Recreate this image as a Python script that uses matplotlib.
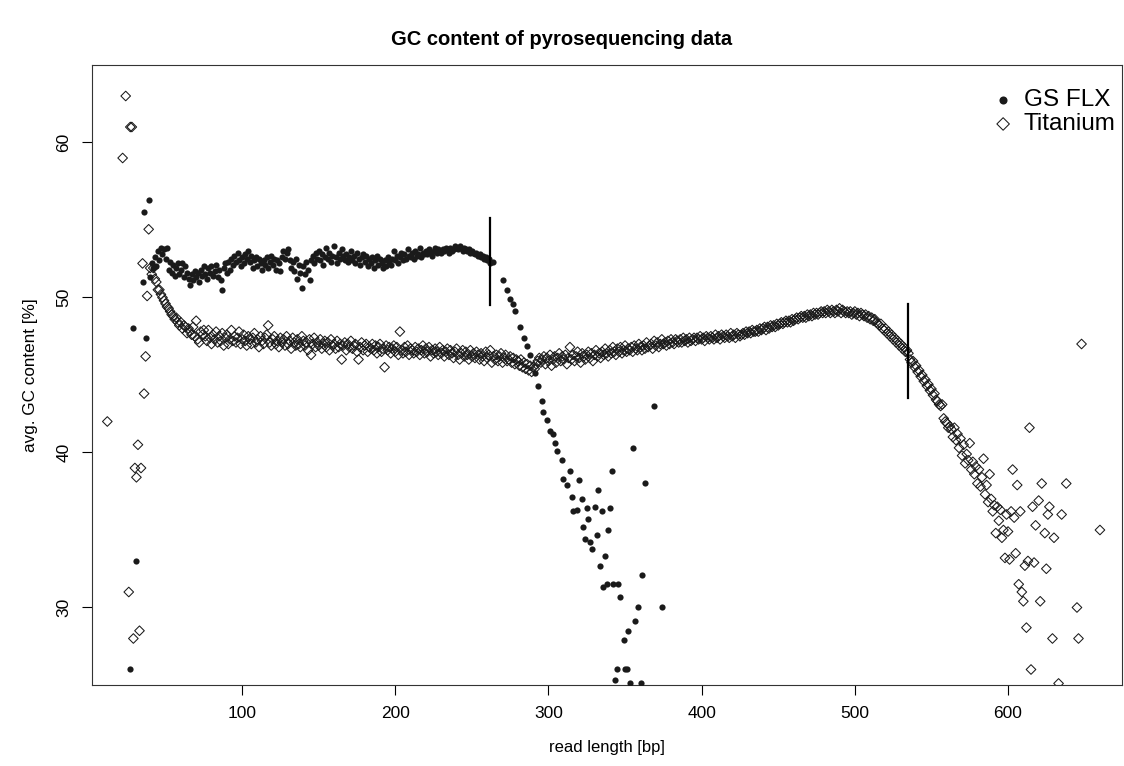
import matplotlib.pyplot as plt

plt.rcParams['font.family'] = ['Liberation Sans', 'DejaVu Sans']

# --- GS FLX: scattered short reads, dense band, then the drop ---
flx_early_x = [27, 29, 31, 35, 36, 37, 39]
flx_early_y = [26.0, 48.0, 33.0, 51.0, 55.5, 47.4, 56.3]

flx_band_start = 40
flx_band_y = [
    51.3, 52.2, 51.9, 52.6, 52.0, 53.0, 52.4, 53.2, 52.8, 53.1,
    52.5, 53.2, 51.8, 52.3, 51.6, 52.1, 51.4, 51.9, 52.2, 51.5,
    51.8, 52.2, 51.3, 52.0, 51.6, 51.2, 50.8, 51.5, 51.1, 51.7,
    51.3, 51.6, 51.0, 51.8, 51.4, 52.0, 51.5, 51.2, 51.9, 51.6,
    52.0, 51.4, 51.7, 52.1, 51.3, 51.8, 51.1, 50.5, 51.9, 52.2,
    51.6, 52.3, 51.8, 52.5, 52.1, 52.7, 52.3, 52.9, 52.4, 52.0,
    52.6, 52.2, 52.8, 52.5, 53.0, 52.3, 52.7, 51.9, 52.4, 52.6,
    52.0, 52.5, 52.2, 51.8, 52.4, 52.1, 52.6, 51.9, 52.3, 52.7,
    52.1, 52.5, 51.8, 52.4, 52.2, 51.7, 52.6, 53.0, 52.5, 52.9,
    53.1, 52.4, 51.9, 52.3, 51.7, 52.5, 51.2, 52.1, 51.6, 50.6,
    52.0, 51.5, 52.3, 51.8, 51.1, 52.4, 52.7, 52.2, 52.9, 52.5,
    53.0, 52.4, 52.8, 52.1, 52.6, 53.2, 52.5, 52.9, 52.3, 52.7,
    53.3, 52.6, 52.2, 52.9, 52.5, 53.1, 52.7, 52.4, 52.8, 52.3,
    52.6, 53.0, 52.4, 52.7, 52.2, 52.9, 52.5, 52.1, 52.6, 52.8,
    52.3, 52.7, 52.0, 52.5, 52.2, 52.6, 51.9, 52.4, 52.7, 52.1,
    52.5, 52.2, 51.9, 52.4, 52.0, 52.6, 52.3, 52.1, 52.5, 53.0,
    52.4, 52.7, 52.2, 52.6, 52.9, 52.4, 52.8, 52.5, 53.1, 52.7,
    52.6, 52.9, 52.5, 53.0, 52.7, 52.8, 53.2, 52.6, 52.9, 52.8,
    53.0, 52.8, 53.1, 52.9, 52.7, 53.0, 53.2, 52.9, 53.1, 53.0,
    52.9, 53.1, 53.0, 53.2, 53.1, 52.9, 53.2, 53.0, 53.1, 53.3,
    53.2, 53.1, 53.3, 53.2, 53.0, 53.2, 53.1, 53.0, 53.1, 52.9,
    53.0, 52.9, 52.8, 52.9, 52.7, 52.8, 52.6, 52.7, 52.5, 52.6,
    52.4, 52.5, 52.2,
]

flx_tail_x = [264.1, 270.6, 272.8, 275.0, 277.1, 278.2, 281.5, 283.7, 285.8, 288.0,
              291.3, 293.4, 295.6, 296.7, 298.9, 301.1, 303.2, 304.3, 305.4, 308.7,
              309.8, 312.0, 314.1, 315.2, 316.3, 318.5, 319.6, 321.7, 322.8, 323.9,
              325.0, 326.1, 327.2, 328.3, 330.4, 331.5, 332.6, 333.7, 334.8, 335.4,
              337.0, 338.1, 339.1, 340.2, 341.3, 342.4, 343.5, 344.6, 345.7, 346.8,
              349.0, 350.0, 351.1, 352.2, 353.3, 355.0, 356.5, 358.7, 360.3, 361.3,
              363.1, 369.0, 374.0]
flx_tail_y = [52.3, 51.1, 50.5, 49.9, 49.6, 49.1, 48.1, 47.4, 46.9, 46.3,
              45.1, 44.3, 43.3, 42.6, 42.1, 41.4, 41.2, 40.6, 40.1, 39.5,
              38.3, 37.9, 38.8, 37.1, 36.2, 36.3, 38.2, 37.0, 35.2, 34.4,
              36.4, 35.7, 34.2, 33.8, 36.5, 34.7, 37.6, 32.7, 36.2, 31.3,
              33.3, 31.5, 35.0, 36.4, 38.8, 31.5, 25.3, 26.0, 31.5, 30.7,
              27.9, 26.0, 26.0, 28.5, 25.1, 40.3, 29.1, 30.0, 25.1, 32.1,
              38.0, 43.0, 30.0]

# --- Titanium ---
ti_early_x = [12, 22, 24, 26, 27, 28, 29, 30, 31, 32, 33, 34, 35, 36, 37, 38, 39]
ti_early_y = [42.0, 59.0, 63.0, 31.0, 61.0, 61.0, 28.0, 39.0, 38.4, 40.5, 28.5, 39.0,
              52.2, 43.8, 46.2, 50.1, 54.4]

ti_band_start = 40
ti_band_y = [
    51.9, 51.5, 51.9, 51.2, 51.0, 50.5, 50.5, 50.2, 50.0, 49.8,
    49.6, 49.4, 49.3, 49.1, 48.9, 48.8, 48.6, 48.7, 48.4, 48.2,
    48.4, 48.0, 48.2, 48.1, 47.7, 48.0, 47.8, 47.6, 48.1, 47.5,
    48.5, 47.3, 47.1, 47.8, 47.6, 47.9,
    47.5, 47.2, 47.9, 47.4, 47.0, 47.6, 47.3, 47.8, 47.1, 47.5,
    47.2, 47.7, 46.9, 47.4, 47.6, 47.0, 47.3, 47.9, 47.2, 47.5,
    47.1, 47.4, 47.8, 47.0, 47.3, 47.6, 47.2, 46.9, 47.5, 47.3,
    47.0, 47.4, 47.7, 47.1, 47.3, 46.8, 47.5, 47.2, 47.0, 47.4,
    47.6, 48.2, 47.1, 46.9, 47.3, 47.5, 47.0, 47.2, 46.8, 47.4,
    47.1, 47.3, 46.9, 47.5, 47.0, 47.2, 46.7, 47.4, 47.1, 46.9,
    47.3, 47.0, 46.8, 47.5, 47.2, 46.9, 47.1, 46.6, 47.3, 46.3,
    47.0, 47.4, 46.8, 47.1, 46.9, 47.3, 46.7, 47.0, 47.2, 46.8,
    47.1, 46.6, 47.3, 46.9, 47.0, 46.7, 47.2, 46.8, 47.0, 46.0,
    46.9, 47.1, 46.6, 47.0, 46.8, 47.2, 46.7, 46.9, 47.0, 46.5,
    46.0, 46.8, 47.1, 46.6, 46.9, 47.0, 46.5, 46.8, 46.7, 47.0,
    46.6, 46.9, 46.4, 46.8, 47.0, 46.5, 46.7, 45.5, 46.9, 46.6,
    46.8, 46.4, 46.7, 46.9, 46.5, 46.8, 46.3, 47.8, 46.6, 46.4,
    46.8, 46.5, 46.9, 46.3, 46.7, 46.6, 46.4, 46.8, 46.5, 46.7,
    46.3, 46.6, 46.9, 46.4, 46.7, 46.5, 46.8, 46.2, 46.6, 46.4,
    46.7, 46.5, 46.3, 46.8, 46.4, 46.6, 46.2, 46.5, 46.7, 46.3,
    46.6, 46.4, 46.1, 46.5, 46.7, 46.3, 46.0, 46.4, 46.6, 46.2,
    46.5, 46.3, 46.0, 46.6, 46.2, 46.4, 46.1, 46.5, 46.3, 46.0,
    46.4, 46.2, 45.9, 46.5, 46.1, 46.3, 46.6, 45.8, 46.2, 46.0,
    46.3, 45.9, 46.2, 46.4, 45.8, 46.1, 46.3, 45.9, 46.0, 46.2,
    45.8, 46.1, 45.7, 46.0, 45.9, 45.6, 46.0, 45.5, 45.8, 45.4,
    45.7, 45.3, 45.6, 45.2, 45.5, 45.4, 45.7, 45.9, 46.1, 45.8,
    46.0, 46.2, 45.7, 46.1, 45.9, 46.3, 45.6, 46.0, 46.2, 45.8,
    46.1, 46.4, 45.9, 46.2, 46.0, 46.3, 45.7, 46.1, 46.8, 46.0,
    46.3, 45.9, 46.2, 46.5, 46.1, 45.8, 46.4, 46.2, 46.0, 46.3,
    46.5, 46.1, 46.4, 45.9, 46.3, 46.6, 46.2, 46.4, 46.1, 46.5,
    46.3, 46.7, 46.4, 46.2, 46.6, 46.4, 46.8, 46.5, 46.3, 46.7,
    46.5, 46.8, 46.4, 46.6, 46.9, 46.5, 46.7, 46.6, 46.8, 46.5,
    46.9, 46.7, 46.6, 47.0, 46.8, 46.6, 46.9, 46.7, 47.1, 46.8,
    46.9, 47.0, 46.7, 47.2, 46.9, 47.1, 46.8, 47.0, 47.3, 47.0,
    47.1, 46.9, 47.2, 47.0, 47.3, 47.1, 47.0, 47.3, 47.2, 47.1,
    47.3, 47.1, 47.4, 47.2, 47.3, 47.1, 47.4, 47.2, 47.3, 47.4,
    47.2, 47.4, 47.3, 47.5, 47.3, 47.4, 47.2, 47.5, 47.4, 47.3,
    47.5, 47.4, 47.3, 47.6, 47.4, 47.5, 47.3, 47.6, 47.5, 47.4,
    47.6, 47.5, 47.4, 47.7, 47.5, 47.6, 47.4, 47.7, 47.6, 47.5,
    47.6, 47.7, 47.6, 47.8, 47.7, 47.8, 47.7, 47.9, 47.8, 47.8,
    47.9, 47.8, 48.0, 47.9, 48.0, 48.1, 47.9, 48.1, 48.0, 48.2,
    48.1, 48.2, 48.1, 48.3, 48.2, 48.3, 48.4, 48.3, 48.4, 48.5,
    48.4, 48.5, 48.4, 48.6, 48.5, 48.6, 48.7, 48.6, 48.7, 48.8,
    48.7, 48.8, 48.7, 48.9, 48.8, 48.9, 48.8, 49.0, 48.9, 49.0,
    48.9, 49.0, 49.1, 49.0, 49.1, 49.0, 49.2, 49.1, 49.0, 49.2,
    49.1, 49.0, 49.2, 49.1, 49.3, 49.0, 49.2, 49.1, 49.0, 49.1,
    49.0, 49.1, 48.9, 49.0, 49.1, 48.9, 49.0, 48.8, 49.0, 48.9,
    48.8, 48.9, 48.7, 48.8, 48.6, 48.7, 48.5, 48.6, 48.4, 48.3,
    48.2, 48.3, 48.0, 47.9, 48.0, 47.7, 47.8, 47.5, 47.6, 47.3,
    47.4, 47.1, 47.2, 46.9, 47.0, 46.7, 46.8, 46.5, 46.6, 46.4,
    46.0, 45.8, 45.9, 45.5, 45.6, 45.2, 45.3, 44.9, 45.0, 44.6,
    44.7, 44.3, 44.4, 44.0, 44.1, 43.7, 43.8, 43.4, 43.3, 43.1,
    43.0, 43.1, 42.2, 42.0, 41.9, 41.6, 41.7, 41.5, 41.0, 41.6,
    40.8, 41.2, 40.3, 40.9, 39.8, 40.5, 39.3, 39.9, 39.5, 40.6,
    38.9, 39.4, 38.6, 39.1, 38.0, 38.9, 37.8, 38.4, 39.6, 37.3,
    37.9, 36.8, 38.6, 37.0, 36.2, 36.6, 34.8, 36.5, 35.6, 36.3,
    34.5, 35.0, 33.2, 36.0, 34.9, 33.1, 36.2, 38.9, 35.8, 33.5,
]

ti_tail_x = [606, 607, 608, 609, 610, 611, 612, 613, 614, 615, 616, 617, 618, 620,
             621, 622, 624, 625, 626, 627, 629, 630, 633, 635, 638, 645, 646, 648, 660]
ti_tail_y = [37.9, 31.5, 36.2, 31.0, 30.4, 32.7, 28.7, 33.0, 41.6, 26.0, 36.5, 32.9,
             35.3, 36.9, 30.4, 38.0, 34.8, 32.5, 36.0, 36.5, 28.0, 34.5, 25.1, 36.0,
             38.0, 30.0, 28.0, 47.0, 35.0]

# mean read length markers
flx_mark = 262
ti_mark = 535

flx_x = flx_early_x + list(range(flx_band_start, flx_band_start + len(flx_band_y))) + flx_tail_x
flx_y = flx_early_y + flx_band_y + flx_tail_y
ti_x = ti_early_x + list(range(ti_band_start, ti_band_start + len(ti_band_y))) + ti_tail_x
ti_y = ti_early_y + ti_band_y + ti_tail_y

fig = plt.figure(figsize=(11.24, 7.66), dpi=100)
ax = fig.add_axes([92 / 1124, 1 - 685 / 766, 1030 / 1124, 620 / 766])

ax.scatter(flx_x, flx_y, s=20, c='#1a1a1a', linewidths=0, label='GS FLX', zorder=3)
ax.scatter(ti_x, ti_y, s=24, marker='D', facecolors='none', edgecolors='#1a1a1a',
           linewidths=0.75, label='Titanium', zorder=2)

ax.plot([flx_mark, flx_mark], [49.5, 55.1], color='black', lw=1.6, zorder=4)
ax.plot([ti_mark, ti_mark], [43.5, 49.6], color='black', lw=1.6, zorder=4)

ax.set_xlim(2, 674.4)
ax.set_ylim(25, 65)
ax.set_xticks([100, 200, 300, 400, 500, 600])
ax.set_yticks([30, 40, 50, 60])
ax.tick_params(direction='out', length=7, width=0.8, labelsize=12.5, pad=8)
for lab in ax.get_yticklabels():
    lab.set_rotation(90)
    lab.set_va('center')
for sp in ax.spines.values():
    sp.set_linewidth(0.8)
    sp.set_color('#333333')

ax.set_xlabel('read length [bp]', fontsize=12, labelpad=14)
ax.set_ylabel('avg. GC content [%]', fontsize=12.3, labelpad=13)
fig.suptitle('GC content of pyrosequencing data', fontsize=14.5, fontweight='bold', y=0.961)

leg = ax.legend(loc='upper right', bbox_to_anchor=(1.008, 0.985), frameon=False, fontsize=17.5,
                handlelength=1.0, handletextpad=0.35, borderaxespad=0.2,
                markerscale=1.3, labelspacing=0.1)

plt.savefig('out.png', dpi=100)
